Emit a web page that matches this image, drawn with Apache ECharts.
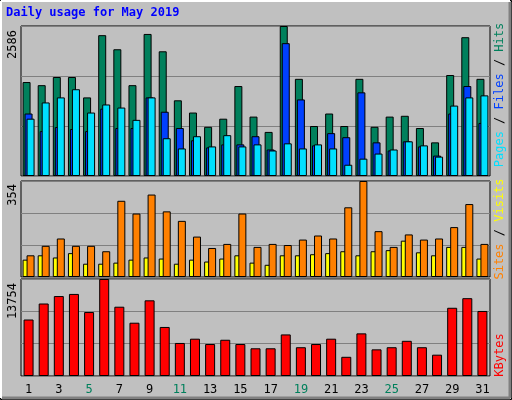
<!DOCTYPE html>
<html><head><meta charset="utf-8">
<script src="https://cdn.jsdelivr.net/npm/echarts@6/dist/echarts.min.js"></script>
<style>html,body{margin:0;padding:0;background:#c0c0c0}#c{width:512px;height:400px}</style>
</head><body><div id="c"></div>
<script>
const days = Array.from({length:31},(_,i)=>String(i+1));
const weekend = ['4','5','11','12','18','19','25','26'];
const hits  = [1620,1566,1707,1707,1355,2428,2185,1566,2449,2150,1305,1094,848,988,1551,1024,760,2586,1675,862,1077,862,1675,848,1024,1038,827,580,1741,2393,1675];
const files = [1077,774,844,810,774,1161,827,827,1355,1108,827,616,493,545,545,686,457,2290,1320,528,739,669,1442,580,440,598,510,352,1077,1551,915];
const pages = [988,1268,1355,1496,1094,1233,1180,968,1355,651,475,686,510,704,510,545,440,563,475,545,475,194,299,387,457,598,528,334,1214,1355,1390];
const sites = [64,80,72,88,49,49,53,64,72,68,49,64,57,68,80,53,45,80,80,84,88,95,80,95,99,134,91,80,111,111,68];
const visits= [80,115,142,115,115,95,281,234,304,242,207,149,107,122,234,111,122,118,138,153,142,257,354,169,111,157,138,142,184,269,122];
const kbytes= [8011,10278,11336,11638,9069,13754,9825,7557,10731,6953,4685,5290,4534,5139,4534,3930,3930,5895,4081,4534,5290,2721,6046,3779,4081,4988,4081,3023,9673,11034,9220];
const maxHits=2586, maxVisits=354, maxKB=13754;
const F='DejaVu Sans Mono';
const grids=[{left:21,width:469,top:26,height:150},{left:21,width:469,top:181,height:96},{left:21,width:469,top:279,height:97}];
const mkX=(i,show)=>({type:'category',gridIndex:i,data:days,axisTick:{show:false},axisLine:{show:false},
  axisLabel:{show:show,fontFamily:F,fontSize:12,margin:8,color:(v)=>weekend.includes(v)?'#00805c':'#000'}});
const mkY=(i,m)=>({type:'value',gridIndex:i,min:0,max:m,interval:m/3,axisLabel:{show:false},axisLine:{show:false},axisTick:{show:false},
  splitLine:{lineStyle:{color:'#808080',width:1}}});
const ib={borderColor:'#000',borderWidth:1};
const chart=echarts.init(document.getElementById('c'));
chart.setOption({
  backgroundColor:'#c0c0c0',animation:false,
  grid:grids.map(g=>Object.assign({show:true,backgroundColor:'#c0c0c0',borderColor:'#000',borderWidth:1},g)),
  xAxis:[mkX(0,false),mkX(1,false),mkX(2,true)],
  yAxis:[mkY(0,maxHits),mkY(1,maxVisits),mkY(2,maxKB)],
  series:[
    {type:'bar',xAxisIndex:0,yAxisIndex:0,data:hits,barWidth:8,barGap:'-75%',itemStyle:Object.assign({color:'#00805c'},ib)},
    {type:'bar',xAxisIndex:0,yAxisIndex:0,data:files,barWidth:8,barGap:'-75%',itemStyle:Object.assign({color:'#0040ff'},ib)},
    {type:'bar',xAxisIndex:0,yAxisIndex:0,data:pages,barWidth:8,barGap:'-75%',itemStyle:Object.assign({color:'#00e0ff'},ib)},
    {type:'bar',xAxisIndex:1,yAxisIndex:1,data:sites,barWidth:8,barGap:'-50%',itemStyle:Object.assign({color:'#ffff00'},ib)},
    {type:'bar',xAxisIndex:1,yAxisIndex:1,data:visits,barWidth:8,barGap:'-50%',itemStyle:Object.assign({color:'#ff8000'},ib)},
    {type:'bar',xAxisIndex:2,yAxisIndex:2,data:kbytes,barWidth:10,itemStyle:Object.assign({color:'#ff0000'},ib)}
  ],
  graphic:[
    {type:'rect',shape:{x:0.5,y:0.5,width:511,height:399},style:{fill:'none',stroke:'#000',lineWidth:1},z:-1},
    {type:'line',shape:{x1:1,y1:1,x2:510,y2:1},style:{stroke:'#fff',lineWidth:2}},
    {type:'line',shape:{x1:1,y1:1,x2:1,y2:398},style:{stroke:'#fff',lineWidth:2}},
    {type:'line',shape:{x1:510,y1:2,x2:510,y2:398},style:{stroke:'#808080',lineWidth:3}},
    {type:'line',shape:{x1:2,y1:398,x2:510,y2:398},style:{stroke:'#808080',lineWidth:3}},
    {type:'text',x:6,y:7,style:{text:'Daily usage for May 2019',fill:'#0000ff',font:'bold 12px '+F}},
    {type:'text',x:13,y:30,rotation:Math.PI/2,style:{text:String(maxHits),fill:'#000',font:'12px '+F,align:'right',verticalAlign:'middle'}},
    {type:'text',x:13,y:184,rotation:Math.PI/2,style:{text:String(maxVisits),fill:'#000',font:'12px '+F,align:'right',verticalAlign:'middle'}},
    {type:'text',x:13,y:283,rotation:Math.PI/2,style:{text:String(maxKB),fill:'#000',font:'12px '+F,align:'right',verticalAlign:'middle'}},
    {type:'text',x:500,y:95,rotation:Math.PI/2,style:{text:'{p|Pages}{k| / }{f|Files}{k| / }{h|Hits}',font:'12px '+F,align:'center',verticalAlign:'middle',
      rich:{p:{fill:'#00e0ff',font:'12px '+F},f:{fill:'#0040ff',font:'12px '+F},h:{fill:'#00805c',font:'12px '+F},k:{fill:'#000',font:'12px '+F}}}},
    {type:'text',x:500,y:229,rotation:Math.PI/2,style:{text:'{s|Sites}{k| / }{v|Visits}',font:'12px '+F,align:'center',verticalAlign:'middle',
      rich:{s:{fill:'#ff8000',font:'12px '+F},v:{fill:'#ffff00',font:'12px '+F},k:{fill:'#000',font:'12px '+F}}}},
    {type:'text',x:500,y:355,rotation:Math.PI/2,style:{text:'KBytes',fill:'#ff0000',font:'12px '+F,align:'center',verticalAlign:'middle'}}
  ]
});
</script></body></html>
